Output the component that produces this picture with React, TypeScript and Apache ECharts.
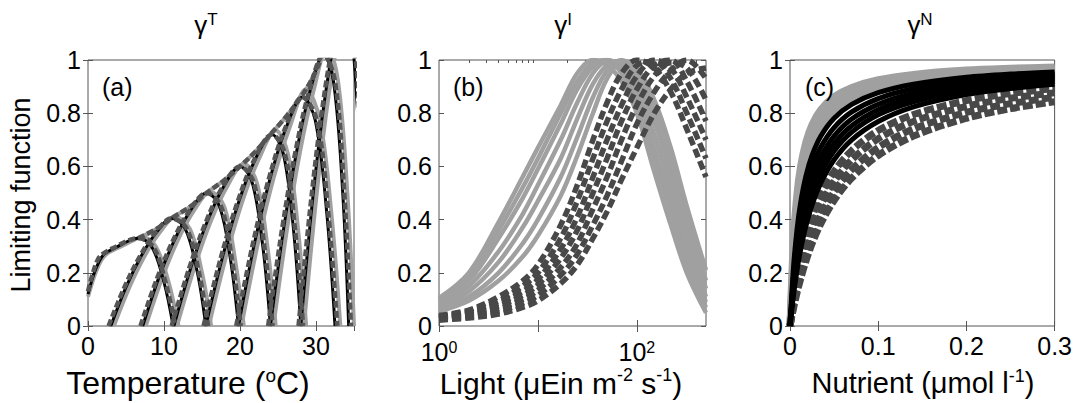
import React, { useEffect, useRef } from "react";
import * as echarts from "echarts";

// ---------- Panel (a): temperature limitation, [T, value] ----------
const tempEnvelope = [[6.6,0.33],[9,0.365],[11,0.405],[13.5,0.45],[15.6,0.5],[18,0.55],[20,0.6],[22,0.655],[24,0.72],[26,0.785],[28,0.86],[29.5,0.93],[30.6,1.0]];

const tempBlack = [
  [[0,0.12],[0.7,0.19],[1.5,0.245],[2.2,0.272],[4,0.3],[5.5,0.322],[6.6,0.33],[8.4,0.297],[10,0.165],[11.2,0]],
  [[3,0],[5,0.146],[7,0.263],[9,0.352],[11,0.405],[12.8,0.365],[14.4,0.2],[15.5,0]],
  [[7.2,0],[9.3,0.18],[11.4,0.325],[13.5,0.435],[15.6,0.5],[17.3,0.45],[18.75,0.25],[19.8,0]],
  [[11.3,0],[13.5,0.216],[15.65,0.39],[17.8,0.522],[20,0.6],[21.6,0.54],[23,0.3],[24,0]],
  [[15.5,0],[17.7,0.259],[19.85,0.468],[22,0.626],[24.2,0.72],[25.7,0.648],[27.05,0.36],[28,0]],
  [[19.8,0],[21.9,0.31],[24,0.559],[26.1,0.748],[28.2,0.86],[29.9,0.774],[31.4,0.43],[32.5,0]],
  [[24,0],[25.75,0.367],[27.5,0.663],[29.25,0.887],[31,1.02],[32.3,0.92],[33.5,0.51],[34.3,0]],
  [[28,0],[29.4,0.432],[30.8,0.78],[32.2,1.04],[33.6,1.2],[34.76,1.08],[35.8,0.6],[36.5,0]],
];

const tempGray = [
  [[0,0.11],[0.8,0.185],[1.7,0.245],[2.5,0.272],[4.4,0.3],[6,0.323],[7.1,0.335],[8.9,0.3],[10.6,0.165],[11.9,0]],
  [[3.4,0],[5.45,0.146],[7.45,0.263],[9.45,0.352],[11.5,0.41],[13.4,0.365],[15,0.2],[16.2,0]],
  [[7.6,0],[9.75,0.18],[11.85,0.325],[13.95,0.435],[16.1,0.505],[17.9,0.45],[19.35,0.25],[20.5,0]],
  [[11.7,0],[13.95,0.216],[16.1,0.39],[18.25,0.522],[20.5,0.61],[22.2,0.54],[23.6,0.3],[24.7,0]],
  [[15.9,0],[18.15,0.259],[20.3,0.468],[22.45,0.626],[24.7,0.735],[26.3,0.648],[27.65,0.36],[28.7,0]],
  [[20.2,0],[22.35,0.31],[24.45,0.559],[26.55,0.748],[28.7,0.89],[30.5,0.774],[32,0.43],[33.2,0]],
  [[24.4,0],[26.2,0.367],[27.95,0.663],[29.7,0.887],[31.5,1.05],[32.9,0.92],[34.1,0.51],[35,0]],
  [[28.4,0],[29.85,0.432],[31.25,0.78],[32.65,1.04],[34.1,1.2],[35.36,1.08],[36.4,0.6],[37.2,0]],
];

const tempDashed = [
  [[0,0.13],[0.6,0.195],[1.3,0.25],[2,0.272],[3.8,0.3],[5.3,0.322],[6.6,0.33],[8.6,0.297],[10.2,0.165],[11.5,0]],
  [[2.7,0],[4.8,0.146],[6.85,0.263],[8.9,0.352],[11,0.405],[13,0.365],[14.6,0.2],[15.8,0]],
  [[6.9,0],[9.1,0.18],[11.25,0.325],[13.4,0.435],[15.6,0.5],[17.5,0.45],[18.95,0.25],[20.1,0]],
  [[11,0],[13.3,0.216],[15.5,0.39],[17.7,0.522],[20,0.6],[21.8,0.54],[23.2,0.3],[24.3,0]],
  [[15.2,0],[17.5,0.259],[19.7,0.468],[21.9,0.626],[24.2,0.72],[25.9,0.648],[27.25,0.36],[28.3,0]],
  [[19.5,0],[21.7,0.31],[23.85,0.559],[26,0.748],[28.2,0.86],[30.1,0.774],[31.6,0.43],[32.8,0]],
  [[23.7,0],[25.55,0.367],[27.35,0.663],[29.15,0.887],[31,1.02],[32.5,0.92],[33.7,0.51],[34.6,0]],
  [[27.7,0],[29.2,0.432],[30.65,0.78],[32.1,1.04],[33.6,1.2],[34.96,1.08],[36,0.6],[36.8,0]],
];

// ---------- Panel (b): light limitation ----------
const lightLevels = [1, 2, 4, 7, 10, 17, 25, 36, 50, 70, 100, 150, 220, 320, 500];
const lightGray = [
  [0.105,0.2,0.39,0.56,0.67,0.83,0.95,1.0,0.98,0.92,0.8,0.58,0.38,0.2,0.05],
  [0.1,0.185,0.36,0.52,0.63,0.8,0.92,0.99,1.0,0.95,0.84,0.63,0.43,0.24,0.07],
  [0.095,0.17,0.33,0.48,0.59,0.76,0.89,0.975,1.0,0.97,0.87,0.67,0.47,0.27,0.09],
  [0.085,0.15,0.28,0.42,0.53,0.7,0.84,0.95,0.995,0.985,0.9,0.72,0.52,0.31,0.11],
  [0.075,0.13,0.24,0.37,0.47,0.63,0.78,0.91,0.98,0.995,0.93,0.77,0.57,0.36,0.14],
  [0.065,0.11,0.2,0.31,0.4,0.56,0.71,0.86,0.96,1.0,0.95,0.81,0.62,0.4,0.17],
  [0.055,0.095,0.17,0.26,0.34,0.49,0.64,0.8,0.93,0.99,0.97,0.85,0.67,0.45,0.21],
];
const lightDashed = [
  [0.04,0.06,0.11,0.17,0.23,0.38,0.53,0.7,0.84,0.95,1.0,0.97,0.88,0.74,0.56],
  [0.035,0.055,0.095,0.15,0.2,0.33,0.47,0.63,0.77,0.89,0.98,0.995,0.93,0.8,0.63],
  [0.032,0.05,0.085,0.13,0.175,0.29,0.41,0.56,0.7,0.83,0.94,1.0,0.97,0.86,0.7],
  [0.03,0.045,0.075,0.115,0.155,0.255,0.36,0.5,0.63,0.77,0.89,0.98,1.0,0.92,0.77],
  [0.027,0.04,0.065,0.1,0.135,0.22,0.31,0.44,0.56,0.7,0.83,0.94,0.99,0.97,0.85],
  [0.025,0.035,0.055,0.085,0.115,0.19,0.27,0.38,0.49,0.62,0.76,0.88,0.96,1.0,0.93],
  [0.022,0.03,0.045,0.07,0.095,0.16,0.23,0.33,0.43,0.55,0.67,0.8,0.89,0.95,0.97],
];

// ---------- Panel (c): nutrient limitation ----------
const nutrientLevels = [0, 0.004, 0.008, 0.012, 0.018, 0.025, 0.035, 0.05, 0.07, 0.1, 0.14, 0.2, 0.25, 0.3];
const nutrientGray = [
  [0,0.333,0.5,0.6,0.692,0.758,0.814,0.862,0.897,0.926,0.946,0.962,0.969,0.974],
  [0,0.286,0.444,0.545,0.643,0.714,0.778,0.833,0.875,0.909,0.933,0.952,0.962,0.968],
  [0,0.25,0.4,0.5,0.6,0.676,0.745,0.806,0.854,0.893,0.921,0.943,0.954,0.962],
];
const nutrientBlack = [
  [0,0.222,0.364,0.462,0.5625,0.641,0.714,0.781,0.833,0.877,0.909,0.935,0.947,0.955],
  [0,0.19,0.32,0.414,0.514,0.595,0.673,0.746,0.805,0.855,0.892,0.922,0.936,0.946],
  [0,0.167,0.286,0.375,0.474,0.556,0.636,0.714,0.778,0.833,0.875,0.909,0.926,0.9375],
  [0,0.148,0.258,0.343,0.439,0.521,0.603,0.685,0.753,0.813,0.859,0.897,0.916,0.929],
  [0,0.133,0.235,0.316,0.409,0.49,0.574,0.658,0.729,0.794,0.843,0.885,0.906,0.92],
  [0,0.118,0.211,0.286,0.375,0.455,0.538,0.625,0.7,0.769,0.824,0.87,0.893,0.909],
];
const nutrientDashed = [
  [0,0.1,0.182,0.25,0.333,0.41,0.493,0.581,0.66,0.735,0.795,0.847,0.874,0.893],
  [0,0.087,0.16,0.222,0.3,0.373,0.455,0.543,0.625,0.704,0.769,0.826,0.856,0.877],
  [0,0.075,0.14,0.197,0.269,0.338,0.417,0.505,0.588,0.671,0.741,0.803,0.836,0.86],
  [0,0.067,0.125,0.176,0.243,0.309,0.385,0.472,0.556,0.641,0.714,0.781,0.817,0.843],
];

const lightMajorTicks = [1, 10, 100];
const lightLabelTicks = [1, 100];
const lightMinorTicks = [2, 3, 4, 5, 6, 7, 8, 9, 20, 30, 40, 50, 60, 70, 80, 90, 200, 300, 400];

const FONT = "'Liberation Sans', Arial, Helvetica, sans-serif";
const DARK = "#555555";
const DASH = "#484848";
const LIGHT = "#a0a0a0";

function mk(data: any[], xi: number, yi: number, color: string, width: number, dash: any, z: number, smooth: any = 0.35) {
  return {
    type: "line", xAxisIndex: xi, yAxisIndex: yi, data, showSymbol: false, symbol: "none",
    smooth, silent: true, z, clip: true,
    lineStyle: { color, width, type: dash || "solid", cap: "butt" },
    emphasis: { disabled: true },
  };
}

const grids = [
  { left: 88, top: 60, width: 266, height: 266 },
  { left: 439, top: 60, width: 267, height: 266 },
  { left: 790, top: 60, width: 266, height: 266 },
];

export default function App() {
  const ref = useRef<HTMLDivElement>(null);
  useEffect(() => {
    if (!ref.current) return;
    const chart = echarts.init(ref.current, null, { renderer: "svg" });
    const tick = { show: true, inside: true, length: 5, lineStyle: { color: DARK, width: 1 } };
    const yLabel = {
      show: true, fontSize: 25, fontFamily: FONT, color: "#000", margin: 7,
      formatter: (v: number) => (v === 0 ? "0" : v === 1 ? "1" : v.toFixed(1)),
    };
    const yAxes: any[] = [];
    for (let i = 0; i < 3; i++) {
      yAxes.push({ type: "value", gridIndex: i, min: 0, max: 1, interval: 0.2, axisLine: { show: false }, axisTick: tick, axisLabel: yLabel, splitLine: { show: false } });
      yAxes.push({ type: "value", gridIndex: i, position: "right", min: 0, max: 1, interval: 0.2, axisLine: { show: false }, axisTick: tick, axisLabel: { show: false }, splitLine: { show: false } });
    }
    const xLabel = { show: true, fontSize: 25, fontFamily: FONT, color: "#000", margin: 7 };
    const xAxes: any[] = [
      { type: "value", gridIndex: 0, min: 0, max: 35, interval: 10, axisLine: { show: false }, axisTick: tick, axisLabel: { ...xLabel, showMaxLabel: false }, splitLine: { show: false } },
      { type: "value", gridIndex: 0, position: "top", min: 0, max: 35, interval: 10, axisLine: { show: false }, axisTick: tick, axisLabel: { show: false }, splitLine: { show: false } },
      { type: "log", logBase: 10, gridIndex: 1, min: 1, max: 500, axisLine: { show: false },
        axisTick: { ...tick, length: 6, customValues: lightMajorTicks },
        axisLabel: { ...xLabel, margin: 13, customValues: lightLabelTicks, formatter: (v: number) => (v < 5 ? "10{s|0}" : "10{s|2}"),
          rich: { s: { fontSize: 16, fontFamily: FONT, verticalAlign: "top", lineHeight: 16, padding: [0, 0, 4, 0] } } },
        splitLine: { show: false }, minorTick: { show: false } },
      { type: "log", logBase: 10, gridIndex: 1, position: "top", min: 1, max: 500, axisLine: { show: false },
        axisTick: { ...tick, length: 6, customValues: lightMajorTicks }, axisLabel: { show: false }, splitLine: { show: false } },
      { type: "log", logBase: 10, gridIndex: 1, min: 1, max: 500, axisLine: { show: false },
        axisTick: { ...tick, length: 3, customValues: lightMinorTicks }, axisLabel: { show: false }, splitLine: { show: false } },
      { type: "log", logBase: 10, gridIndex: 1, position: "top", min: 1, max: 500, axisLine: { show: false },
        axisTick: { ...tick, length: 3, customValues: lightMinorTicks }, axisLabel: { show: false }, splitLine: { show: false } },
      { type: "value", gridIndex: 2, min: 0, max: 0.3, interval: 0.1, axisLine: { show: false }, axisTick: tick,
        axisLabel: { ...xLabel, formatter: (v: number) => (v === 0 ? "0" : v.toFixed(1)) }, splitLine: { show: false } },
      { type: "value", gridIndex: 2, position: "top", min: 0, max: 0.3, interval: 0.1, axisLine: { show: false }, axisTick: tick, axisLabel: { show: false }, splitLine: { show: false } },
    ];

    const series: any[] = [];
    // Panel (a)
    tempGray.forEach((d) => series.push(mk(d, 0, 0, LIGHT, 4, "solid", 2)));
    series.push(mk(tempEnvelope, 0, 0, LIGHT, 4, "solid", 2));
    tempBlack.forEach((d) => series.push(mk(d, 0, 0, "#000", 3, "solid", 3)));
    tempDashed.forEach((d) => series.push(mk(d, 0, 0, DARK, 4.5, [7, 3], 4)));
    series.push(mk(tempEnvelope, 0, 0, DARK, 4.5, [7, 3], 4));
    // Panel (b)
    const lp = (vals: number[]) => lightLevels.map((x, j) => [x, vals[j]]);
    lightGray.forEach((v) => series.push(mk(lp(v), 2, 2, LIGHT, 4.5, "solid", 2)));
    lightDashed.forEach((v) => series.push(mk(lp(v), 2, 2, DASH, 5.5, [9, 4], 3)));
    // Panel (c)
    const np = (vals: number[]) => nutrientLevels.map((x, j) => [x, vals[j]]);
    nutrientGray.forEach((v) => series.push(mk(np(v), 6, 4, LIGHT, 7, "solid", 2, 0.3)));
    nutrientDashed.forEach((v) => series.push(mk(np(v), 6, 4, DASH, 7, [10, 3], 3, 0.3)));
    nutrientBlack.forEach((v) => series.push(mk(np(v), 6, 4, "#000", 5, "solid", 4, 0.3)));

    const txt = (x: number, y: number, text: string, size: number, extra: any = {}) => ({
      type: "text", x, y, silent: true, z: 10,
      style: { text, fontSize: size, fontFamily: FONT, fill: "#000", align: "center", verticalAlign: "middle", ...extra },
    });
    const titleRich = { s: { fontSize: 17, fontFamily: FONT, verticalAlign: "top", lineHeight: 17 } };
    const supRich = (sz: number) => ({ s: { fontSize: sz, fontFamily: FONT, verticalAlign: "top", lineHeight: sz } });

    chart.setOption({
      animation: false,
      grid: grids.map((g) => ({ ...g, show: true, borderColor: DARK, borderWidth: 1, backgroundColor: "transparent", containLabel: false })),
      xAxis: xAxes,
      yAxis: yAxes,
      series,
      graphic: [
        txt(206, 25, "γ{s|T}", 26, { lineHeight: 28, rich: titleRich }),
        txt(563, 25, "γ{s|I}", 26, { lineHeight: 28, rich: titleRich }),
        txt(920, 25, "γ{s|N}", 26, { lineHeight: 28, rich: titleRich }),
        txt(102, 87, "(a)", 25, { align: "left" }),
        txt(453, 87, "(b)", 25, { align: "left" }),
        txt(805, 87, "(c)", 25, { align: "left" }),
        { ...txt(21, 195, "Limiting function", 27), rotation: Math.PI / 2 },
        txt(188, 383, "Temperature ({s|o}C)", 32, { lineHeight: 35, rich: supRich(19) }),
        txt(561, 383, "Light (μEin m{s|-2} s{s|-1})", 30, { lineHeight: 34, rich: supRich(18) }),
        txt(923, 383, "Nutrient (μmol l{s|-1})", 29, { lineHeight: 33, rich: supRich(18) }),
      ],
    });
    return () => chart.dispose();
  }, []);
  return <div ref={ref} style={{ position: "fixed", left: 0, top: 0, width: 1075, height: 403, background: "#fff" }} />;
}
